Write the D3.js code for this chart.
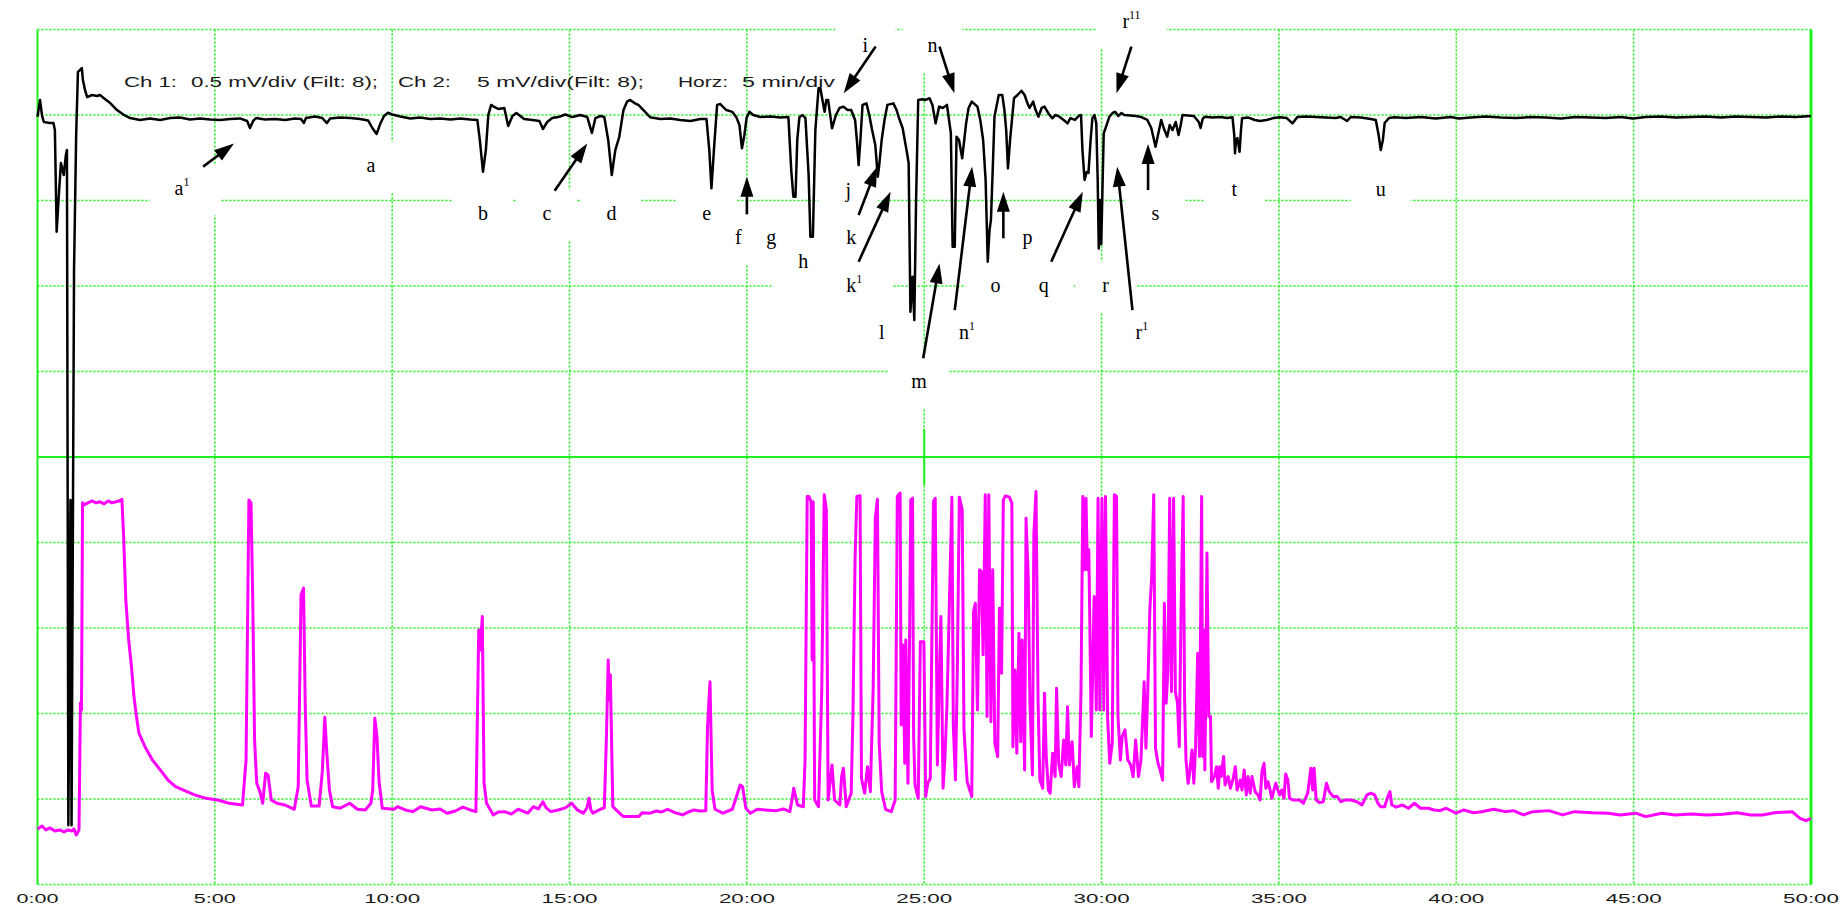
<!DOCTYPE html>
<html>
<head>
<meta charset="utf-8">
<script src="https://cdn.jsdelivr.net/npm/d3@7"></script>
<style>
  html, body { margin: 0; padding: 0; background: #fff; }
  svg { display: block; }
</style>
</head>
<body>
<svg id="chart" width="1843" height="906"></svg>
<script>
// Channel 1 samples: [time (min), potential (µV)]
const ch1Trace = [
[0.00,-10],[0.07,88],[0.13,-6],[0.18,-41],[0.35,-47],[0.45,-47],[0.49,-88],[0.54,-683],[0.61,-439],[0.66,-281],
[0.74,-351],[0.80,-234],[0.83,-205],[0.87,-4154],[0.93,-2252],[0.96,-4154],[1.03,-907],[1.09,-117],[1.14,252],[1.20,263],
[1.25,275],[1.28,205],[1.34,146],[1.40,105],[1.54,117],[1.68,111],[1.76,117],[1.90,94],[2.05,70],[2.24,29],
[2.44,0],[2.61,-18],[2.89,-29],[3.17,-20],[3.46,-29],[3.74,-18],[4.02,-15],[4.30,-26],[4.58,-20],[4.87,-26],
[5.15,-29],[5.43,-23],[5.71,-20],[5.91,-35],[5.99,-76],[6.08,-35],[6.16,-18],[6.42,-26],[6.70,-23],[6.98,-29],
[7.26,-20],[7.43,-23],[7.51,-47],[7.57,-18],[7.83,-9],[8.03,-18],[8.16,-47],[8.25,-20],[8.53,-15],[8.82,-18],
[9.10,-23],[9.32,-32],[9.44,-76],[9.56,-111],[9.66,-53],[9.77,-6],[9.88,13],[10.00,3],[10.23,-9],[10.51,-20],
[10.79,-15],[11.07,-23],[11.35,-20],[11.64,-26],[11.92,-20],[12.20,-26],[12.40,-29],[12.47,-146],[12.56,-332],[12.64,-205],
[12.71,0],[12.79,59],[12.88,47],[12.99,35],[13.16,41],[13.27,-64],[13.39,-6],[13.50,12],[13.72,-23],[13.95,-29],
[14.15,-35],[14.25,-82],[14.37,-41],[14.51,-18],[14.68,-12],[14.88,3],[15.08,-12],[15.30,0],[15.50,-12],[15.63,-105],
[15.73,-18],[15.87,-6],[15.98,-12],[16.09,-146],[16.19,-351],[16.29,-205],[16.40,-129],[16.52,29],[16.62,78],[16.71,88],
[16.83,70],[16.94,59],[17.11,23],[17.27,-13],[17.56,-23],[17.84,-20],[18.12,-29],[18.41,-35],[18.69,-23],[18.86,-23],
[18.94,-205],[19.00,-429],[19.07,-205],[19.16,59],[19.25,64],[19.42,29],[19.59,18],[19.70,-12],[19.79,-59],[19.86,-195],
[19.93,-117],[19.99,-18],[20.07,19],[20.18,0],[20.38,-12],[20.66,-9],[20.95,-15],[21.17,-12],[21.25,-322],[21.31,-478],
[21.37,-478],[21.42,-146],[21.48,-12],[21.57,0],[21.65,-18],[21.74,-351],[21.79,-712],[21.86,-712],[21.93,-88],[22.02,156],
[22.07,158],[22.13,88],[22.19,19],[22.24,88],[22.29,88],[22.40,-78],[22.51,0],[22.61,41],[22.72,49],[22.84,29],
[22.94,29],[23.05,-29],[23.10,-146],[23.15,-293],[23.20,-146],[23.26,59],[23.37,68],[23.45,0],[23.53,-88],[23.62,-176],
[23.69,-361],[23.73,-293],[23.80,-146],[23.88,-29],[23.96,59],[24.13,68],[24.22,29],[24.29,-19],[24.39,-76],[24.45,-146],
[24.50,-205],[24.56,-281],[24.61,-1151],[24.67,-946],[24.72,-1199],[24.77,-497],[24.83,88],[24.94,92],[25.03,88],[25.15,98],
[25.23,59],[25.32,-49],[25.42,49],[25.52,41],[25.64,59],[25.75,-105],[25.80,-770],[25.86,-770],[25.91,-127],[25.98,-146],
[26.07,-253],[26.18,-49],[26.25,41],[26.34,78],[26.50,49],[26.58,-29],[26.66,-146],[26.73,-380],[26.79,-858],[26.84,-673],
[26.88,-614],[26.93,-322],[26.98,-10],[27.10,117],[27.20,117],[27.26,29],[27.31,-88],[27.36,-312],[27.42,-146],[27.53,98],
[27.63,117],[27.74,142],[27.83,117],[27.91,68],[27.97,41],[28.07,78],[28.14,29],[28.22,-10],[28.31,41],[28.39,49],
[28.51,6],[28.61,-19],[28.70,0],[28.81,-10],[28.93,-29],[29.04,-49],[29.12,-18],[29.25,-29],[29.35,-6],[29.42,0],
[29.46,-205],[29.52,-380],[29.58,-333],[29.63,-339],[29.69,-146],[29.74,-19],[29.80,0],[29.85,-49],[29.89,-380],[29.92,-780],
[29.96,-497],[29.99,-755],[30.03,-380],[30.06,-107],[30.14,-59],[30.22,-10],[30.31,12],[30.38,19],[30.47,-6],[30.56,12],
[30.64,0],[30.81,-3],[30.97,-6],[31.12,-12],[31.29,-29],[31.40,-76],[31.52,-185],[31.59,-117],[31.68,-29],[31.75,-76],
[31.85,-127],[31.92,-59],[32.00,-88],[32.09,-41],[32.17,-117],[32.23,-59],[32.28,0],[32.43,-3],[32.60,-6],[32.74,-41],
[32.79,-76],[32.85,-23],[32.91,-10],[33.13,-15],[33.36,-12],[33.53,-18],[33.69,-13],[33.74,-117],[33.76,-224],[33.79,-146],
[33.83,-135],[33.86,-176],[33.89,-215],[33.93,-88],[33.96,-19],[34.14,-15],[34.32,-29],[34.47,-35],[34.65,-29],[34.85,-18],
[35.02,-13],[35.22,-18],[35.38,-49],[35.52,-12],[35.76,-9],[36.04,-12],[36.32,-15],[36.60,-18],[36.74,-12],[36.92,-35],
[37.02,-12],[37.31,-15],[37.59,-23],[37.73,-29],[37.81,-117],[37.87,-205],[37.93,-146],[37.98,-47],[38.10,-18],[38.26,-13],
[38.58,-18],[39.00,-12],[39.42,-20],[39.84,-12],[40.07,-20],[40.41,-15],[40.83,-9],[41.26,-15],[41.68,-18],[42.10,-12],
[42.52,-15],[42.95,-20],[43.37,-12],[43.79,-15],[44.22,-18],[44.64,-12],[44.98,-20],[45.34,-12],[45.76,-9],[46.19,-15],
[46.61,-12],[47.03,-9],[47.46,-15],[47.88,-9],[48.31,-12],[48.73,-15],[49.15,-9],[49.58,-12],[50.00,-6]
];

// Channel 2 samples: [time (min), potential (mV)]
const ch2Trace = [
[0.00,3.25],[0.13,3.42],[0.24,3.19],[0.35,3.31],[0.49,3.13],[0.63,3.19],[0.75,3.07],[0.86,3.19],[0.97,3.13],[1.03,3.25],
[1.09,2.90],[1.17,3.19],[1.21,10.61],[1.24,10.20],[1.27,22.32],[1.31,22.20],[1.42,22.32],[1.54,22.43],[1.65,22.32],[1.76,22.38],
[1.88,22.26],[1.99,22.43],[2.10,22.32],[2.21,22.38],[2.30,22.43],[2.38,22.53],[2.43,20.25],[2.49,16.64],[2.57,14.30],[2.65,12.74],
[2.72,10.99],[2.79,9.82],[2.86,8.85],[3.03,8.06],[3.24,7.28],[3.46,6.70],[3.68,6.11],[3.89,5.72],[4.10,5.53],[4.43,5.24],
[4.75,5.04],[5.08,4.94],[5.40,4.75],[5.78,4.65],[5.88,7.28],[5.96,22.49],[6.02,22.30],[6.07,16.47],[6.12,8.45],[6.18,5.92],
[6.27,5.43],[6.35,4.75],[6.43,6.51],[6.50,6.41],[6.59,4.94],[6.75,4.75],[6.97,4.65],[7.24,4.40],[7.35,5.72],[7.43,16.94],
[7.50,17.33],[7.55,10.31],[7.60,6.11],[7.72,4.59],[7.94,4.59],[8.03,6.60],[8.10,9.78],[8.16,7.58],[8.23,5.53],[8.32,4.55],
[8.53,4.46],[8.80,4.75],[9.02,4.40],[9.24,4.36],[9.40,4.75],[9.45,5.53],[9.51,9.72],[9.57,8.65],[9.63,6.01],[9.72,4.46],
[10.05,4.40],[10.15,4.55],[10.37,4.36],[10.58,4.26],[10.80,4.55],[11.12,4.36],[11.35,4.42],[11.55,4.17],[11.78,4.30],[11.99,4.52],
[12.20,4.36],[12.36,4.26],[12.44,14.89],[12.48,13.72],[12.54,15.67],[12.59,5.92],[12.66,4.75],[12.85,4.07],[12.99,4.24],[13.17,4.26],
[13.36,4.12],[13.55,4.40],[13.82,4.17],[13.98,4.55],[14.12,4.42],[14.25,4.84],[14.34,4.48],[14.47,4.26],[14.68,4.36],[14.88,4.48],
[15.06,4.75],[15.22,4.36],[15.39,4.17],[15.49,4.48],[15.55,5.04],[15.60,4.36],[15.66,4.17],[15.87,4.40],[15.98,4.48],[16.04,8.65],
[16.09,13.13],[16.12,10.79],[16.15,12.26],[16.22,4.55],[16.41,4.17],[16.52,3.97],[16.71,3.97],[16.95,3.97],[17.05,4.20],[17.27,4.17],
[17.45,4.30],[17.59,4.24],[17.76,4.40],[17.97,4.20],[18.19,4.07],[18.35,4.24],[18.51,4.36],[18.68,4.30],[18.84,4.32],[18.89,9.23],
[18.96,11.86],[19.02,5.53],[19.10,4.40],[19.32,4.17],[19.59,4.40],[19.81,5.82],[19.88,5.72],[19.97,4.46],[20.10,4.17],[20.29,4.40],
[20.52,4.36],[20.83,4.32],[21.03,4.42],[21.21,4.26],[21.27,4.94],[21.32,5.63],[21.43,4.65],[21.59,4.55],[21.64,7.28],[21.70,22.69],
[21.75,22.69],[21.81,22.39],[21.84,13.13],[21.87,22.39],[21.91,4.94],[22.02,4.55],[22.11,11.28],[22.18,22.79],[22.24,21.91],[22.29,4.94],
[22.40,6.99],[22.47,4.94],[22.62,4.65],[22.67,6.31],[22.72,6.80],[22.80,4.55],[22.94,5.34],[22.99,9.92],[23.05,19.08],[23.10,22.69],
[23.19,22.73],[23.23,6.21],[23.32,5.34],[23.40,6.89],[23.48,5.43],[23.56,11.48],[23.62,21.42],[23.68,22.53],[23.73,8.26],[23.80,5.43],
[23.91,4.40],[24.07,4.26],[24.18,4.94],[24.24,22.69],[24.32,22.89],[24.35,9.33],[24.40,14.01],[24.45,7.09],[24.48,14.30],[24.54,5.92],
[24.59,15.28],[24.62,22.49],[24.67,22.59],[24.70,8.65],[24.74,5.82],[24.83,5.04],[24.89,14.20],[24.99,14.20],[25.04,5.14],[25.10,5.92],
[25.17,6.21],[25.26,22.39],[25.31,22.59],[25.37,6.99],[25.42,11.86],[25.47,15.67],[25.53,5.63],[25.58,7.28],[25.64,10.50],[25.71,16.54],
[25.78,22.65],[25.82,9.23],[25.88,6.11],[25.93,12.26],[25.99,22.65],[26.07,21.91],[26.12,9.04],[26.21,6.01],[26.28,5.53],[26.34,5.14],
[26.39,15.96],[26.44,16.45],[26.50,10.21],[26.56,18.40],[26.61,18.30],[26.66,13.43],[26.72,22.79],[26.77,9.82],[26.82,22.79],[26.88,9.52],
[26.93,18.40],[26.99,8.26],[27.07,7.48],[27.12,16.16],[27.18,12.36],[27.23,22.49],[27.29,22.73],[27.40,22.65],[27.47,22.30],[27.50,8.06],
[27.56,12.55],[27.61,7.68],[27.67,14.70],[27.72,8.35],[27.76,14.30],[27.83,6.70],[27.87,21.42],[27.93,18.01],[27.98,10.60],[28.05,6.41],
[28.09,20.45],[28.15,22.98],[28.21,10.60],[28.26,6.11],[28.34,5.63],[28.39,11.19],[28.44,7.48],[28.50,5.53],[28.55,5.34],[28.62,7.68],
[28.69,6.31],[28.73,11.48],[28.79,7.09],[28.86,6.31],[28.93,8.45],[28.99,6.99],[29.04,10.40],[29.09,6.99],[29.17,8.35],[29.23,5.72],
[29.31,6.89],[29.36,5.72],[29.42,11.38],[29.47,22.69],[29.52,18.40],[29.56,22.59],[29.60,18.40],[29.64,19.57],[29.71,8.65],[29.79,16.84],
[29.85,10.21],[29.90,22.59],[29.95,10.21],[30.01,22.59],[30.06,10.21],[30.11,22.69],[30.17,9.72],[30.23,7.09],[30.30,8.26],[30.36,22.79],
[30.42,22.69],[30.46,9.92],[30.53,7.28],[30.58,8.65],[30.66,9.04],[30.74,7.28],[30.82,6.99],[30.89,6.31],[30.96,8.45],[31.04,6.31],
[31.11,7.28],[31.20,11.86],[31.25,7.97],[31.30,11.19],[31.36,16.06],[31.41,17.91],[31.47,22.79],[31.52,7.97],[31.59,7.09],[31.65,6.70],
[31.72,6.11],[31.77,16.45],[31.82,10.60],[31.87,12.55],[31.92,22.59],[31.97,11.28],[32.03,22.59],[32.08,11.28],[32.14,10.60],[32.19,8.06],
[32.24,15.96],[32.30,22.69],[32.34,10.79],[32.38,7.28],[32.44,5.92],[32.49,6.70],[32.55,7.87],[32.60,5.92],[32.65,8.06],[32.71,13.53],
[32.76,7.48],[32.82,22.69],[32.85,7.48],[32.88,14.89],[32.91,6.70],[32.93,9.92],[32.97,19.38],[33.02,9.82],[33.07,9.82],[33.10,6.01],
[33.18,6.31],[33.24,6.89],[33.29,5.63],[33.33,6.89],[33.37,6.31],[33.44,7.48],[33.48,5.82],[33.57,6.31],[33.63,5.63],[33.71,6.21],
[33.77,6.89],[33.82,5.53],[33.91,6.11],[33.96,5.53],[34.02,6.70],[34.08,5.24],[34.13,6.31],[34.19,5.34],[34.24,6.31],[34.33,5.43],
[34.41,5.24],[34.47,4.94],[34.52,6.60],[34.58,7.09],[34.63,5.63],[34.69,6.01],[34.75,5.53],[34.80,5.04],[34.86,5.53],[34.91,5.92],
[34.97,5.53],[35.02,5.24],[35.08,5.53],[35.14,5.04],[35.19,6.46],[35.25,6.11],[35.30,5.04],[35.41,4.94],[35.58,4.94],[35.69,4.75],
[35.81,5.34],[35.90,6.80],[35.95,5.53],[35.99,6.80],[36.05,4.94],[36.14,4.79],[36.25,4.84],[36.34,5.92],[36.42,5.43],[36.53,5.14],
[36.64,5.14],[36.75,4.84],[36.86,4.94],[37.03,4.94],[37.20,4.84],[37.34,4.65],[37.48,5.24],[37.59,5.34],[37.70,5.24],[37.79,4.75],
[37.87,4.55],[37.98,4.55],[38.07,5.14],[38.13,5.43],[38.18,4.65],[38.31,4.52],[38.48,4.65],[38.65,4.46],[38.82,4.75],[38.99,4.46],
[39.21,4.46],[39.37,4.36],[39.54,4.32],[39.71,4.46],[39.99,4.17],[40.21,4.36],[40.49,4.20],[40.71,4.26],[41.05,4.40],[41.38,4.26],
[41.61,4.32],[41.89,4.07],[42.16,4.26],[42.61,4.32],[43.00,4.07],[43.33,4.26],[43.84,4.20],[44.28,4.17],[44.62,4.07],[45.06,4.17],
[45.34,3.97],[45.79,4.17],[46.18,4.07],[46.62,4.12],[47.06,4.07],[47.52,4.11],[47.91,4.20],[48.30,4.07],[48.63,4.07],[48.97,4.20],
[49.47,4.26],[49.69,3.87],[49.86,3.73],[50.00,3.87]
];

// Horizontal divisions (minutes) and their labels
const timeTicks = [0, 5, 10, 15, 20, 25, 30, 35, 40, 45, 50];
const timeTickLabels = ["0:00", "5:00", "10:00", "15:00", "20:00", "25:00", "30:00", "35:00", "40:00", "45:00", "50:00"];

// Vertical divisions on channel 2 (mV)
const ch2Divisions = [0, 5, 10, 15, 20, 25, 30, 35, 40, 45, 50];

// Event annotations: letter, superscript, time (min), baseline level on the channel 1 scale (µV)
const eventLetters = ["a","a","b","c","d","e","f","g","h","i","j","k","k","l","m","n","n","o","p","q","r","r","r","s","t","u"];
const eventSups    = ["1","", "", "", "", "", "", "", "", "", "", "", "1","", "", "", "1","", "", "", "", "1","11","","",""];
const eventTimes   = [3.99,9.40,12.56,14.36,16.18,18.87,19.76,20.69,21.59,23.34,22.86,22.94,22.94,23.80,24.85,25.23,26.12,27.01,27.91,28.37,30.11,31.05,30.68,31.52,33.74,37.87];
const eventLevels  = [-468,-333,-614,-614,-614,-614,-755,-755,-895,366,-480,-755,-1035,-1310,-1597,366,-1310,-1035,-755,-1035,-1035,-1310,507,-614,-474,-474];

// Pointer arrows: [tail time, tail level, head time, head level] on the channel 1 scale
const eventArrows = [
  [4.67,-302, 5.54,-166],
  [14.58,-443, 15.50,-166],
  [20.00,-581, 20.00,-361],
  [23.63,400, 22.73,127],
  [23.15,-585, 23.67,-302],
  [23.15,-858, 24.05,-449],
  [24.97,-1423, 25.43,-868],
  [25.43,400, 25.85,127],
  [25.86,-1141, 26.35,-302],
  [27.23,-721, 27.23,-449],
  [28.58,-858, 29.47,-449],
  [30.87,-1141, 30.44,-302],
  [30.84,400, 30.42,127],
  [31.31,-439, 31.31,-170]
];

// ---- scales ----
const svg = d3.select("#chart");
const x = d3.scaleLinear().domain([0, 50]).range([37.5, 1811]);
const y1 = d3.scaleLinear().domain([-4500, 500]).range([884.5, 29.5]);   // 0.5 mV/div
const y2 = d3.scaleLinear().domain([0, 50]).range([884.5, 29.5]);        // 5 mV/div

const GRID = "#1ef01e";
const plotTop = y2(50), plotBottom = y2(0);

// ---- graticule ----
const grid = svg.append("g");
grid.selectAll("line.vdiv")
  .data(timeTicks.filter(t => t > 0 && t < 50))
  .join("line")
  .attr("x1", d => x(d)).attr("x2", d => x(d))
  .attr("y1", plotTop).attr("y2", plotBottom)
  .attr("stroke", GRID).attr("stroke-width", 1.6)
  .attr("stroke-dasharray", "2,2");

grid.selectAll("line.hdiv")
  .data(ch2Divisions)
  .join("line")
  .attr("x1", x(0)).attr("x2", x(50))
  .attr("y1", d => y2(d)).attr("y2", d => y2(d))
  .attr("stroke", GRID)
  .attr("stroke-width", d => d === 25 ? 2 : 1.6)
  .attr("stroke-dasharray", d => d === 25 ? null : "2,2");

// left and right frame edges
grid.append("line").attr("x1", x(0)).attr("x2", x(0)).attr("y1", plotTop).attr("y2", plotBottom)
  .attr("stroke", GRID).attr("stroke-width", 2);
grid.append("line").attr("x1", x(50)).attr("x2", x(50)).attr("y1", plotTop).attr("y2", plotBottom)
  .attr("stroke", GRID).attr("stroke-width", 3);
// centre marker
grid.append("line").attr("x1", x(25)).attr("x2", x(25))
  .attr("y1", y2(25) - 28).attr("y2", y2(25) + 28)
  .attr("stroke", GRID).attr("stroke-width", 2);

// ---- annotation backgrounds (white text boxes) ----
const events = eventLetters.map((l, i) => ({
  letter: l, sup: eventSups[i], t: eventTimes[i], level: eventLevels[i]
}));
svg.append("g").selectAll("rect")
  .data(events)
  .join("rect")
  .attr("x", d => x(d.t) + (d.sup ? 6 : 0) - (d.sup ? 35 : 30))
  .attr("y", d => y1(d.level) - 30)
  .attr("width", d => d.sup ? 70 : 60)
  .attr("height", 50)
  .attr("fill", "#fff");

// ---- traces ----
const line1 = d3.line().x(d => x(d[0])).y(d => y1(d[1]));
const line2 = d3.line().x(d => x(d[0])).y(d => y2(d[1]));

svg.append("path")
  .datum(ch2Trace)
  .attr("d", line2)
  .attr("fill", "none")
  .attr("stroke", "#ff00ff")
  .attr("stroke-width", 3)
  .attr("stroke-linejoin", "round");

svg.append("path")
  .datum(ch1Trace)
  .attr("d", line1)
  .attr("fill", "none")
  .attr("stroke", "#000")
  .attr("stroke-width", 2.5)
  .attr("stroke-linejoin", "round");

// ---- settings header ----
const header = [
  ["Ch 1:", 124, 53],
  ["0.5 mV/div (Filt: 8);", 191, 187],
  ["Ch 2:", 398, 53],
  ["5 mV/div(Filt: 8);", 477, 167],
  ["Horz:", 678, 50],
  ["5 min/div", 742, 93]
];
svg.append("g").selectAll("text")
  .data(header)
  .join("text")
  .attr("x", d => d[1])
  .attr("y", 87)
  .attr("textLength", d => d[2])
  .attr("lengthAdjust", "spacingAndGlyphs")
  .attr("font-family", "Liberation Sans, Arial, sans-serif")
  .attr("font-size", 14)
  .attr("fill", "#1a1a1a")
  .text(d => d[0]);

// ---- time axis labels ----
svg.append("g").selectAll("text")
  .data(timeTicks)
  .join("text")
  .attr("x", d => x(d))
  .attr("y", 903)
  .attr("text-anchor", "middle")
  .attr("textLength", (d, i) => timeTickLabels[i].length === 4 ? 42 : 56)
  .attr("lengthAdjust", "spacingAndGlyphs")
  .attr("font-family", "Liberation Sans, Arial, sans-serif")
  .attr("font-size", 12.5)
  .attr("fill", "#1a1a1a")
  .text((d, i) => timeTickLabels[i]);

// ---- event letters ----
const labelG = svg.append("g")
  .attr("font-family", "Liberation Serif, 'Times New Roman', serif")
  .attr("fill", "#000");
events.forEach(d => {
  const t = labelG.append("text")
    .attr("y", y1(d.level))
    .attr("font-size", 20);
  t.append("tspan").text(d.letter);
  const w = t.node().getComputedTextLength();
  t.attr("x", x(d.t) - w / 2);
  if (d.sup) {
    t.append("tspan")
      .attr("font-size", 12)
      .attr("dy", -9)
      .text(d.sup);
  }
});

// ---- arrows ----
const arrowG = svg.append("g");
eventArrows.forEach(a => {
  const x0 = x(a[0]), yA = y1(a[1]), x1 = x(a[2]), yB = y1(a[3]);
  const dx = x1 - x0, dy = yB - yA, len = Math.hypot(dx, dy);
  const ux = dx / len, uy = dy / len;
  const headLen = 20, half = 6.5;
  const bx = x1 - ux * headLen, by = yB - uy * headLen;
  arrowG.append("line")
    .attr("x1", x0).attr("y1", yA)
    .attr("x2", bx + ux * 2).attr("y2", by + uy * 2)
    .attr("stroke", "#000").attr("stroke-width", 2.6);
  arrowG.append("path")
    .attr("d", `M${x1},${yB}L${bx - uy * half},${by + ux * half}L${bx + uy * half},${by - ux * half}Z`)
    .attr("fill", "#000");
});
</script>
</body>
</html>
